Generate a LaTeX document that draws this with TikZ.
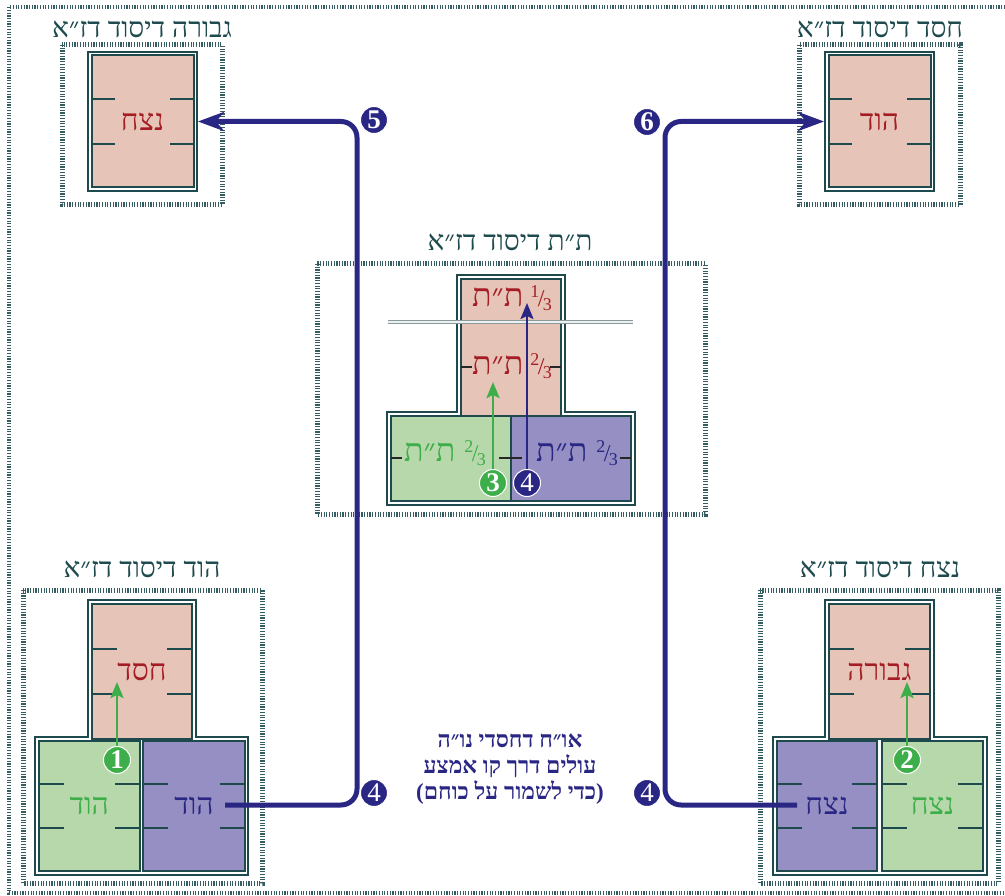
\documentclass[tikz,border=0pt]{standalone}
\usepackage{fontspec}
\setmainfont{Liberation Serif}
\newfontfamily\heb[Script=Hebrew]{Liberation Serif}
\TeXXeTstate=1
\usetikzlibrary{arrows.meta,calc}

\definecolor{framec}{HTML}{1E4A4E}
\definecolor{pinkfill}{HTML}{E6C5B8}
\definecolor{redtxt}{HTML}{A51D24}
\definecolor{greenfill}{HTML}{B6D8AA}
\definecolor{greentxt}{HTML}{3DAE49}
\definecolor{bluefill}{HTML}{958FC3}
\definecolor{navy}{HTML}{2A2784}
\definecolor{rulegray}{HTML}{8A9A9A}

\newcommand\rl[1]{\beginR#1\endR}
\newcommand\frc[1]{\raisebox{0.6ex}{\fontsize{18}{18}\selectfont#1}\kern-1.5pt{\fontsize{24}{24}\selectfont/}\kern-1.5pt\raisebox{-0.3ex}{\fontsize{18}{18}\selectfont3}}

\tikzset{
  tickline/.style={draw=framec, line width=2pt},
  ticked/.style={path picture={
      \foreach \f in {0.333,0.667} {
        \draw[tickline] ($(path picture bounding box.north west)!\f!(path picture bounding box.south west)$) -- ++(25,0);
        \draw[tickline] ($(path picture bounding box.north east)!\f!(path picture bounding box.south east)$) -- ++(-25,0);
      }}},
  hatchframe/.style={draw=framec!90!white, line width=5pt, dash pattern=on 1.2pt off 1.5pt},
  outerframe/.style={hatchframe, line width=4pt},
  title/.style={text=framec, font=\heb\fontsize{28}{28}\selectfont},
  cellbox/.style={draw=framec, line width=2pt, inner sep=0pt, font=\heb\fontsize{30}{30}\selectfont},
  lonebox/.style={cellbox, double=white, double distance=1.5pt, outer sep=2.75pt,
    fill=pinkfill, text=redtxt, minimum width=105.5pt, minimum height=135.5pt, ticked},
  pinkcell/.style={cellbox, fill=pinkfill, text=redtxt},
  greencell/.style={cellbox, fill=greenfill, text=greentxt},
  bluecell/.style={cellbox, fill=bluefill, text=navy},
  union/.style={draw=framec, line width=2pt, fill=white},
  midtick/.style={draw=black!85, line width=2pt},
  tiflabel/.style={font=\heb\fontsize{32}{32}\selectfont, inner sep=1pt},
  num/.style={circle, draw=white, line width=1pt, text=white, inner sep=0pt,
    minimum size=27pt, font=\bfseries\fontsize{27}{27}\selectfont},
  link/.style={draw=navy, line width=5pt, rounded corners=16pt,
    -{Stealth[length=26pt, width=19pt, inset=8pt]}},
  uparrow/.style={line width=2.5pt, -{Stealth[length=16pt, width=13pt, inset=3pt]}},
}

\begin{document}
\begin{tikzpicture}[x=1pt, y=-1pt]
  \useasboundingbox (0,0) rectangle (1005,896);

  % outer border
  \draw[outerframe] (1005,7) -- (9,7) -- (9,893) -- (1005,893);

  % top left
  \draw[hatchframe] (62,45) rectangle (222,205);
  \node[title] (gevT) at (142,29) {\rl{גבורה דיסוד דז״א}};
  \node[lonebox] (gevN) at (142.5,121.5) {\rl{נצח}};

  % top right
  \draw[hatchframe] (799,45) rectangle (960,205);
  \node[title] (hesT) at (880,29) {\rl{חסד דיסוד דז״א}};
  \node[lonebox] (hesH) at (879.5,121.5) {\rl{הוד}};

  % centre
  \draw[hatchframe] (317,264) rectangle (705,514);
  \node[title] (tifT) at (510,242) {\rl{ת״ת דיסוד דז״א}};
  \draw[union] (457,275) -- (565,275) -- (565,412) -- (635,412) -- (635,505)
    -- (387,505) -- (387,412) -- (457,412) -- cycle;
  \node[pinkcell, minimum width=100pt, minimum height=137pt] (tifP) at (511,347.5) {};
  \node[greencell, minimum width=120pt, minimum height=85pt] (tifG) at (451,458.5) {};
  \node[bluecell, minimum width=120pt, minimum height=85pt] (tifB) at (571,458.5) {};
  \draw[rulegray, double=white!85!rulegray, line width=1.5pt, double distance=1.6pt] (388,322) -- (633,322);
  \draw[midtick] (461,367) -- ++(11,0);
  \draw[midtick] (550,367) -- ++(11,0);
  \draw[midtick] (391,458) -- ++(11,0);
  \draw[midtick] (499,458) -- ++(23,0);
  \draw[midtick] (620,458) -- ++(11,0);
  \node[tiflabel, text=redtxt] (tifA) at (512,298) {\rl{ת״ת}\kern7pt\frc{1}};
  \node[tiflabel, text=redtxt] (tifM) at (512,366) {\rl{ת״ת}\kern7pt\frc{2}};
  \node[tiflabel, text=greentxt] (tifL) at (445,453) {\rl{ת״ת}\kern9pt\frc{2}};
  \node[tiflabel, text=navy] (tifR) at (577,453) {\rl{ת״ת}\kern9pt\frc{2}};

  % bottom left
  \draw[hatchframe] (23,590) rectangle (262,883);
  \node[title] (hodT) at (142,569) {\rl{הוד דיסוד דז״א}};
  \draw[union] (88,600) -- (196,600) -- (196,737) -- (248,737) -- (248,875)
    -- (35,875) -- (35,737) -- (88,737) -- cycle;
  \node[pinkcell, ticked, minimum width=100pt, minimum height=135pt] (hodP) at (142,671.5) {\rl{חסד}};
  \node[greencell, ticked, minimum width=100.5pt, minimum height=130pt] (hodG) at (89.25,806) {\rl{הוד}};
  \node[bluecell, ticked, minimum width=102pt, minimum height=130pt] (hodB) at (194,806) {\rl{הוד}};

  % bottom right
  \draw[hatchframe] (760,590) rectangle (998,883);
  \node[title] (netT) at (880,569) {\rl{נצח דיסוד דז״א}};
  \draw[union] (825,600) -- (934,600) -- (934,737) -- (987,737) -- (987,875)
    -- (773,875) -- (773,737) -- (825,737) -- cycle;
  \node[pinkcell, ticked, minimum width=101pt, minimum height=135pt] (netP) at (879.5,671.5) {\rl{גבורה}};
  \node[bluecell, ticked, minimum width=100pt, minimum height=130pt] (netB) at (827,806) {\rl{נצח}};
  \node[greencell, ticked, minimum width=101pt, minimum height=130pt] (netG) at (932.5,806) {\rl{נצח}};

  % note
  \node[text=navy, align=center, font=\heb\bfseries\fontsize{23}{26}\selectfont] (note) at (510,769)
    {\rl{או״ח דחסדי נו״ה}\\\rl{עולים דרך קו אמצע}\\\rl{(כדי לשמור על כוחם)}};

  % numbers
  \node[num, fill=greentxt] (n1) at (117,760) {1};
  \node[num, fill=greentxt] (n2) at (907,760) {2};
  \node[num, fill=greentxt] (n3) at (493,483) {3};
  \node[num, fill=navy, font=\fontsize{27}{27}\selectfont] (n4c) at (527,483) {4};
  \node[num, fill=navy, font=\fontsize{27}{27}\selectfont] (n4l) at (374,793) {4};
  \node[num, fill=navy, font=\fontsize{27}{27}\selectfont] (n4r) at (647,793) {4};
  \node[num, fill=navy] (n5) at (374,120) {5};
  \node[num, fill=navy] (n6) at (647,122) {6};

  % arrows
  \coordinate (t1) at (117,682);
  \coordinate (t2) at (907,682);
  \coordinate (t3) at (493,382);
  \coordinate (t4) at (527,303);
  \draw[uparrow, greentxt] (n1.north) -- (t1);
  \draw[uparrow, greentxt] (n2.north) -- (t2);
  \draw[uparrow, greentxt] (n3.north) -- (t3);
  \draw[uparrow, navy, line width=2pt] (n4c.north) -- (t4);

  \coordinate (lstart) at (225,805);
  \coordinate (lbend) at (357,121.5);
  \coordinate (rstart) at (797,805);
  \coordinate (rbend) at (665,121.5);
  \draw[link] (lstart) -| (lbend) -- (gevN.east);
  \draw[link] (rstart) -| (rbend) -- (hesH.west);
\end{tikzpicture}
\end{document}
